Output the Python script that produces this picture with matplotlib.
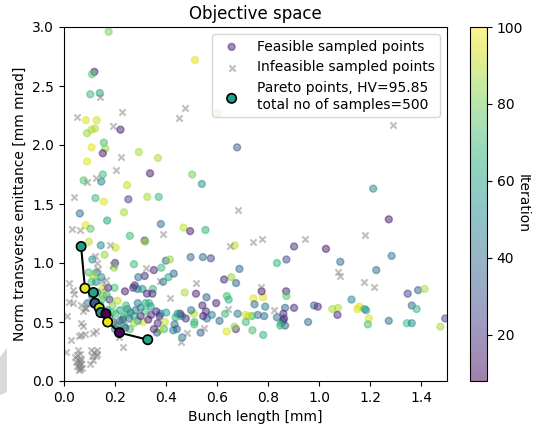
import matplotlib
matplotlib.use("Agg")
import matplotlib.pyplot as plt
from matplotlib.patches import Polygon

# feasible samples: bunch length [mm], emittance [mm mrad], iteration
feas_x = [0.119, 0.175, 0.513, 0.110, 0.103, 0.140, 0.086, 0.128, 0.108, 0.121,
          0.090, 0.221, 0.600, 0.108, 0.156, 0.162, 0.152, 0.090, 0.293, 0.368,
          0.678, 0.337, 0.502, 0.077, 0.152, 0.146, 0.247, 0.540, 0.123, 0.252,
          0.326, 0.371, 0.156, 0.062, 0.235, 1.211, 0.169, 0.379, 1.272, 0.085,
          0.104, 0.468, 0.494, 0.554, 0.258, 0.097, 0.316, 0.318, 0.144, 0.202,
          0.668, 0.901, 1.026, 0.159, 0.111, 0.496, 0.544, 0.575, 0.399, 0.415,
          0.274, 0.200, 0.196, 0.871, 0.834, 1.082, 1.283, 0.687, 1.223, 0.097,
          0.352, 0.381, 0.409, 0.430, 0.316, 0.291, 0.388, 0.655, 0.627, 0.674,
          0.277, 0.271, 0.288, 0.307, 0.348, 0.198, 0.239, 0.473, 0.325, 0.346,
          0.517, 0.558, 0.638, 0.645, 0.742, 0.780, 0.774, 0.870, 0.871, 1.346,
          1.387, 1.412, 1.126, 0.289, 0.333, 0.746, 0.596, 0.542, 0.979, 0.994,
          0.901, 0.866, 0.788, 1.362, 1.381, 1.051, 1.073, 1.149, 1.157, 1.177,
          1.183, 1.071, 1.194, 1.190, 1.272, 1.343, 1.362, 1.474, 1.493, 0.956,
          0.834, 0.858, 0.850, 0.862, 0.866, 0.859, 0.847, 0.784, 0.759, 0.736,
          0.711, 0.723, 0.712, 0.680, 0.673, 0.668, 0.637, 0.631, 0.609, 0.579,
          0.560, 0.556, 0.545, 0.509, 0.498, 0.511, 0.510, 0.535, 0.738, 0.780,
          0.477, 0.461, 0.455, 0.437, 0.445, 0.433, 0.428, 0.463, 0.442, 0.395,
          0.392, 0.375, 0.364, 0.352, 0.367, 0.374, 0.378, 0.361, 0.341, 0.317,
          0.310, 0.289, 0.274, 0.256, 0.248, 0.243, 0.249, 0.232, 0.219, 0.202,
          0.189, 0.178, 0.193, 0.209, 0.236, 0.258, 0.274, 0.158, 0.143, 0.147,
          0.154, 0.151, 0.173, 0.178, 0.167, 0.131, 0.120, 0.108, 0.125, 0.146,
          0.127, 0.115, 0.093, 0.110, 0.300, 0.320, 0.220, 0.260, 0.280, 0.340,
          0.190, 0.210, 0.230, 0.300, 0.330, 0.400, 0.240, 0.170, 0.180, 0.200]
feas_y = [2.62, 2.96, 2.72, 2.60, 2.43, 2.44, 2.21, 2.21, 2.13, 2.14,
          2.10, 2.13, 2.27, 1.98, 2.02, 1.97, 1.93, 1.86, 1.94, 1.89,
          1.98, 1.76, 1.75, 1.70, 1.75, 1.69, 1.66, 1.67, 1.55, 1.54,
          1.56, 1.56, 1.52, 1.42, 1.43, 1.63, 1.36, 1.33, 1.37, 1.32,
          1.29, 1.30, 1.27, 1.28, 1.23, 1.18, 1.19, 1.18, 1.15, 1.13,
          1.15, 1.14, 1.12, 1.07, 1.03, 1.05, 1.05, 1.04, 1.02, 1.03,
          0.99, 1.00, 0.96, 1.03, 1.00, 1.01, 1.06, 0.95, 0.94, 0.92,
          0.94, 0.96, 0.88, 0.91, 0.89, 0.88, 0.84, 0.88, 0.86, 0.83,
          0.81, 0.79, 0.78, 0.78, 0.78, 0.79, 0.76, 0.75, 0.74, 0.74,
          0.74, 0.71, 0.72, 0.69, 0.70, 0.71, 0.76, 0.76, 0.72, 0.74,
          0.77, 0.78, 0.69, 0.66, 0.66, 0.65, 0.66, 0.64, 0.64, 0.63,
          0.62, 0.62, 0.63, 0.64, 0.61, 0.61, 0.62, 0.61, 0.63, 0.61,
          0.60, 0.56, 0.53, 0.48, 0.51, 0.49, 0.49, 0.46, 0.53, 0.50,
          0.54, 0.51, 0.49, 0.53, 0.47, 0.57, 0.47, 0.55, 0.56, 0.55,
          0.56, 0.55, 0.50, 0.57, 0.44, 0.46, 0.42, 0.57, 0.51, 0.56,
          0.53, 0.59, 0.55, 0.57, 0.60, 0.50, 0.48, 0.41, 0.43, 0.39,
          0.53, 0.55, 0.57, 0.54, 0.57, 0.48, 0.43, 0.37, 0.44, 0.50,
          0.44, 0.43, 0.41, 0.44, 0.49, 0.55, 0.57, 0.59, 0.56, 0.59,
          0.50, 0.51, 0.55, 0.53, 0.61, 0.64, 0.57, 0.54, 0.51, 0.57,
          0.58, 0.54, 0.50, 0.47, 0.47, 0.44, 0.49, 0.56, 0.64, 0.69,
          0.72, 0.78, 0.79, 0.69, 0.73, 0.75, 0.74, 0.84, 0.84, 0.88,
          0.92, 0.89, 0.66, 0.72, 0.62, 0.66, 0.60, 0.58, 0.60, 0.63,
          0.64, 0.68, 0.52, 0.55, 0.52, 0.58, 0.45, 0.60, 0.50, 0.44]
feas_it = [15, 80, 95, 75, 70, 62, 95, 93, 90, 88,
           85, 15, 82, 95, 72, 85, 15, 95, 88, 88,
           35, 15, 80, 75, 70, 48, 92, 55, 70, 28,
           88, 70, 95, 40, 88, 52, 62, 40, 15, 95,
           75, 90, 15, 68, 70, 90, 20, 85, 50, 92,
           90, 20, 15, 85, 55, 40, 40, 28, 40, 85,
           70, 18, 85, 30, 68, 40, 45, 38, 40, 72,
           18, 70, 65, 38, 20, 40, 45, 85, 18, 38,
           18, 18, 40, 55, 70, 72, 15, 88, 18, 18,
           18, 35, 72, 68, 95, 95, 15, 18, 75, 28,
           35, 88, 50, 45, 68, 40, 18, 18, 35, 20,
           20, 38, 45, 38, 68, 88, 88, 95, 95, 65,
           58, 20, 95, 72, 40, 70, 52, 88, 28, 40,
           40, 18, 70, 20, 38, 20, 68, 40, 40, 70,
           95, 92, 70, 45, 20, 85, 95, 70, 38, 50,
           40, 20, 18, 92, 45, 70, 72, 38, 72, 68,
           20, 38, 18, 68, 55, 40, 45, 45, 38, 92,
           72, 90, 38, 18, 20, 20, 38, 18, 20, 70,
           95, 55, 68, 38, 38, 70, 72, 70, 55, 72,
           75, 40, 38, 55, 70, 72, 85, 85, 72, 70,
           85, 95, 18, 20, 70, 55, 45, 72, 55, 55,
           52, 85, 45, 52, 50, 65, 60, 55, 45, 60,
           80, 90, 30, 20, 15, 60, 35, 65, 90, 45]

# infeasible samples
infeas_x = [0.051, 0.140, 0.228, 0.472, 0.449, 1.287, 0.190, 0.223, 0.205, 0.039,
            0.090, 0.124, 0.680, 0.031, 0.062, 0.388, 1.177, 0.179, 0.742, 0.776,
            0.943, 0.650, 1.072, 1.079, 1.174, 1.214, 0.772, 0.517, 0.322, 0.376,
            0.414, 0.641, 0.823, 0.549, 0.482, 0.459, 0.232, 0.214, 0.202, 0.162,
            0.135, 0.166, 0.190, 0.020, 0.034, 0.038, 0.020, 0.013, 0.065, 0.073,
            0.081, 0.067, 0.058, 0.027, 0.007, 0.124, 0.081, 0.034, 0.088, 0.074,
            0.068, 0.115, 0.050, 0.055, 0.058, 0.060, 0.064, 0.052, 0.048, 0.067,
            0.062, 0.045, 0.066, 0.057, 0.070, 0.053, 0.061, 0.105, 0.118, 0.128,
            0.110, 0.125, 0.102, 0.115, 0.130, 0.120, 0.130, 0.150]
infeas_y = [2.24, 2.41, 2.28, 2.31, 2.23, 2.17, 2.16, 1.90, 1.79, 1.56,
            1.69, 1.72, 1.45, 1.29, 1.28, 1.25, 1.24, 1.15, 1.18, 1.20,
            1.20, 1.14, 0.92, 0.89, 0.84, 0.80, 0.80, 0.83, 0.96, 0.85,
            0.70, 0.61, 0.60, 0.45, 0.41, 0.33, 0.29, 0.37, 0.49, 0.80,
            0.95, 0.86, 0.98, 0.83, 0.77, 0.74, 0.67, 0.55, 0.64, 0.59,
            0.62, 0.49, 0.38, 0.35, 0.25, 0.42, 0.40, 0.66, 0.62, 0.47,
            0.39, 0.41, 0.22, 0.18, 0.15, 0.12, 0.10, 0.13, 0.16, 0.19,
            0.23, 0.20, 0.14, 0.09, 0.11, 0.26, 0.17, 0.26, 0.25, 0.26,
            0.21, 0.21, 0.14, 0.18, 0.23, 1.06, 1.00, 0.85]

# pareto front
pareto_x = [0.067, 0.082, 0.115, 0.121, 0.138, 0.144, 0.164, 0.171, 0.217, 0.328]
pareto_y = [1.14, 0.786, 0.75, 0.66, 0.62, 0.58, 0.57, 0.50, 0.41, 0.35]
pareto_it = [60, 97, 62, 35, 92, 58, 8, 97, 10, 62]

hv = 95.85
n_samples = 500

fig = plt.figure(figsize=(5.38, 4.28), dpi=100)
ax = fig.add_axes([64 / 538, 1 - 381 / 428, 383 / 538, 354 / 428])
cax = fig.add_axes([470 / 538, 1 - 381 / 428, 17 / 538, 354 / 428])

sc = ax.scatter(feas_x, feas_y, c=feas_it, cmap="viridis", vmin=8, vmax=100,
                s=25, alpha=0.5, label="Feasible sampled points")
ax.scatter(infeas_x, infeas_y, marker="x", color="grey", alpha=0.5, s=20,
           label="Infeasible sampled points")
ax.plot(pareto_x, pareto_y, color="black", lw=1.5)
ax.scatter(pareto_x, pareto_y, c=pareto_it, cmap="viridis", vmin=8, vmax=100,
           s=45, edgecolors="black", linewidths=1.2, zorder=3,
           label=f"Pareto points, HV={hv}\ntotal no of samples={n_samples}")

ax.set_xlim(0, 1.5)
ax.set_ylim(0, 3)
ax.set_xlabel("Bunch length [mm]")
ax.set_ylabel("Norm transverse emittance [mm mrad]")
ax.set_title("Objective space")
ax.legend(loc="upper right")

cb = fig.colorbar(sc, cax=cax)
cb.set_ticks([20, 40, 60, 80, 100])
cax.set_ylabel("Iteration", rotation=270, ha="center", va="center")
cax.yaxis.set_label_coords(3.1, 0.5)

# grey artefact at the lower left of the picture
fig.patches.append(Polygon([(0, 1 - 357 / 428), (7 / 538, 1 - 348 / 428),
                            (7 / 538, 1 - 392 / 428), (0, 1 - 395 / 428)],
                           closed=True, transform=fig.transFigure,
                           facecolor="#d9d9d9", edgecolor="none"))

fig.savefig("out.png", dpi=100)
